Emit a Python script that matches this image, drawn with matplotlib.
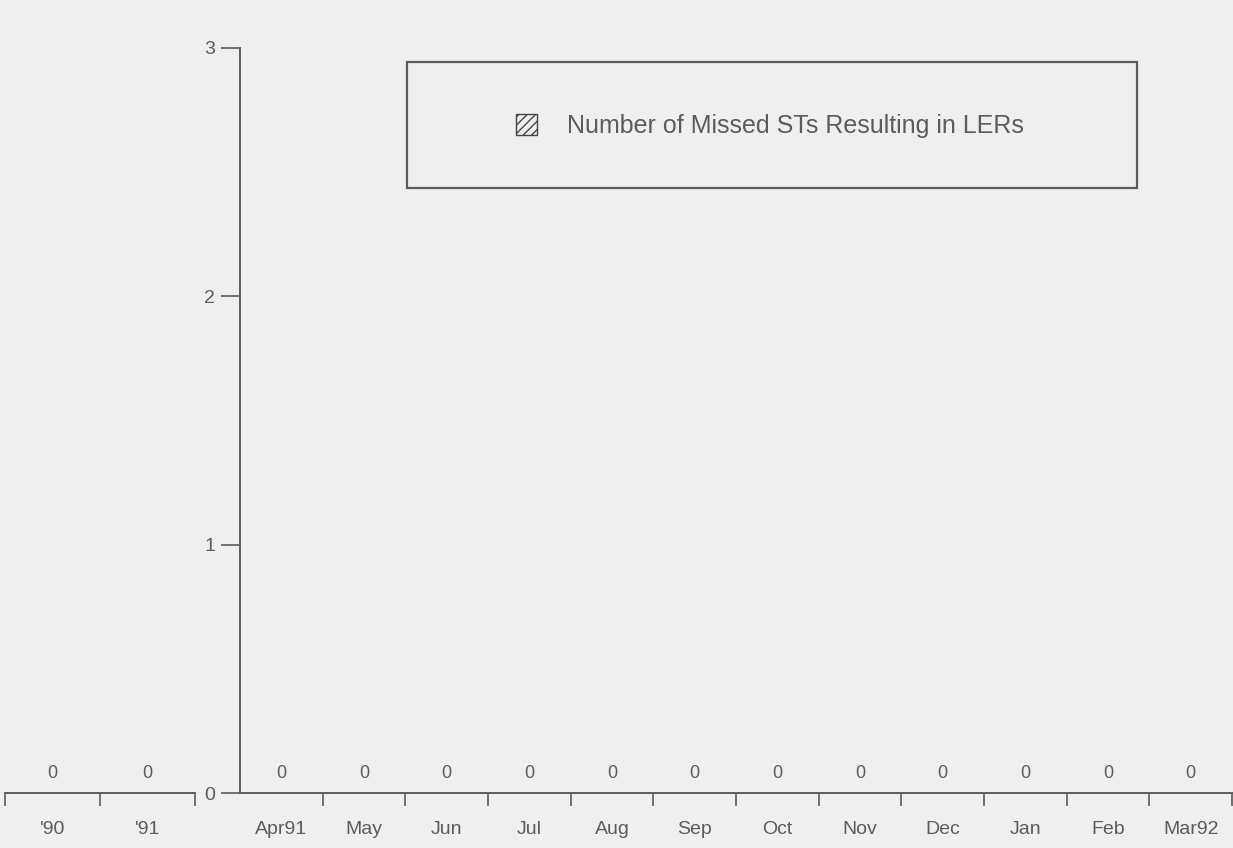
import numpy as np
import matplotlib.pyplot as plt
from matplotlib.patches import Rectangle, Patch

plt.rcParams['font.family'] = ['Liberation Sans', 'DejaVu Sans']
plt.rcParams['hatch.color'] = '#6a6a6a'

years = ["'90", "'91"]
year_vals = [0, 0]
months = ['Apr91', 'May', 'Jun', 'Jul', 'Aug', 'Sep', 'Oct',
          'Nov', 'Dec', 'Jan', 'Feb', 'Mar92']
month_vals = [0, 0, 0, 0, 0, 0, 0, 0, 0, 0, 0, 0]
legend_label = 'Number of Missed STs Resulting in LERs'

bg = '#efefef'
ink = '#5c5c5c'
W, H = 1233, 848

fig = plt.figure(figsize=(12.33, 8.48), dpi=100, facecolor=bg)

def fx(px):
    return px / W

def fy(py):
    return 1 - py / H

# main axes (monthly)
bottom = fy(793)
ax = fig.add_axes([fx(240), bottom, fx(1232) - fx(240), fy(48) - bottom])
ax.set_facecolor('none')
x = np.arange(len(months))
bars = ax.bar(x, month_vals, width=0.8, color='none', edgecolor=ink, hatch='////')
ax.bar_label(bars, labels=[str(v) for v in month_vals], padding=8,
             fontsize=13, color=ink)
ax.set_xlim(-0.5, len(months) - 0.5)
ax.set_ylim(0, 3)
ax.set_yticks([0, 1, 2, 3])
ax.set_xticks(x)
ax.set_xticklabels(months, fontsize=14, color=ink)
ax.set_xticks(np.arange(0.5, len(months)), minor=True)
ax.tick_params(axis='x', which='major', length=0, pad=20)
ax.tick_params(axis='x', which='minor', length=9, width=1.2, color=ink, direction='out')
ax.tick_params(axis='y', length=14, width=1.2, color=ink, labelsize=14,
               labelcolor=ink, pad=4)
for s in ['top', 'right']:
    ax.spines[s].set_visible(False)
for s in ['left', 'bottom']:
    ax.spines[s].set_color(ink)
    ax.spines[s].set_linewidth(1.4)

# small axes for the yearly values
ax2 = fig.add_axes([fx(5), bottom, fx(195) - fx(5), fy(48) - bottom])
ax2.set_facecolor('none')
x2 = np.arange(len(years))
bars2 = ax2.bar(x2, year_vals, width=0.8, color='none', edgecolor=ink, hatch='////')
ax2.bar_label(bars2, labels=[str(v) for v in year_vals], padding=8,
              fontsize=13, color=ink)
ax2.set_xlim(-0.5, len(years) - 0.5)
ax2.set_ylim(0, 3)
ax2.set_xticks(x2)
ax2.set_xticklabels(years, fontsize=14, color=ink)
ax2.set_xticks([-0.5, 0.5, 1.5], minor=True)
ax2.tick_params(axis='x', which='major', length=0, pad=20)
ax2.tick_params(axis='x', which='minor', length=9, width=1.2, color=ink, direction='out')
ax2.set_yticks([])
for s in ['top', 'right', 'left']:
    ax2.spines[s].set_visible(False)
ax2.spines['bottom'].set_color(ink)
ax2.spines['bottom'].set_linewidth(1.4)

# legend box
box = Rectangle((fx(407), fy(188)), fx(1137) - fx(407), fy(62) - fy(188),
                transform=fig.transFigure, facecolor='none', edgecolor=ink, lw=1.6)
fig.patches.append(box)
handle = Patch(facecolor='none', edgecolor='#444444', hatch='////', label=legend_label)
fig.legend(handles=[handle], loc='center', bbox_to_anchor=(fx(770), fy(126)),
           frameon=False, fontsize=18, labelcolor=ink, handlelength=0.85,
           handleheight=0.9, handletextpad=1.2)

fig.savefig('out.png', dpi=100, facecolor=bg)
